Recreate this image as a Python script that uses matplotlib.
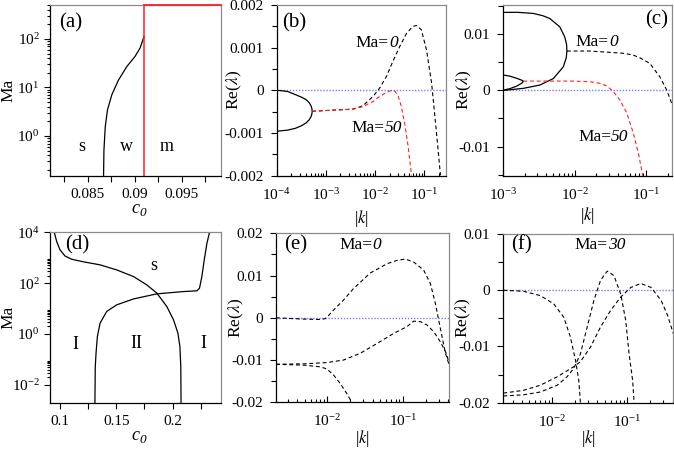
import numpy as np
import matplotlib
matplotlib.use("Agg")
import matplotlib.pyplot as plt
from matplotlib.ticker import FixedLocator, FuncFormatter, MultipleLocator, NullFormatter
from matplotlib.transforms import offset_copy

plt.rcParams['font.family'] = ['Liberation Serif', 'DejaVu Serif']
plt.rcParams['mathtext.fontset'] = 'stix'
plt.rcParams['axes.unicode_minus'] = False

# (a) neutral curve and the red boundary
a_c0 = [0.0867, 0.08674, 0.08688, 0.08712, 0.08758, 0.08828, 0.08917, 0.09005, 0.09058, 0.09101]
a_ma = [0.15, 0.51, 1.55, 3.47, 7.08, 14.1, 26.9, 43.6, 64.6, 112]
a_red_c0 = 0.091

# (b) growth rates, real branches (solid) and complex pair (dashed)
b_k_solid = [1.0e-4, 1.3e-4, 1.7e-4, 2.4e-4, 3.2e-4, 4.0e-4, 4.6e-4, 5.0e-4, 5.2e-4, 5.3e-4,
             5.2e-4, 5.0e-4, 4.6e-4, 4.0e-4, 3.2e-4, 2.4e-4, 1.7e-4, 1.0e-4]
b_re_solid = [0.0, -0.00001, -0.00003, -0.0001, -0.00016, -0.00022, -0.00029, -0.00036, -0.00042, -0.00049,
              -0.00056, -0.00062, -0.00069, -0.00076, -0.00083, -0.00089, -0.00093, -0.00096]
b_k_ma0 = [5.3e-4, 1.66e-3, 3.63e-3, 5.75e-3, 9.3e-3, 1.26e-2, 1.74e-2, 2.34e-2, 3.24e-2, 4.47e-2,
           6.03e-2, 7.08e-2, 8.91e-2, 0.1135, 0.1445, 0.182, 0.219]
b_re_ma0 = [-0.00049, -0.00046, -0.00044, -0.00036, -0.00014, 0.000055, 0.00033, 0.00068, 0.00103, 0.00134,
            0.0015, 0.00152, 0.00142, 0.00095, 0.00017, -0.001, -0.00199]
b_k_ma50 = [5.3e-4, 1.66e-3, 3.63e-3, 5.75e-3, 9.3e-3, 1.26e-2, 1.74e-2, 2.19e-2, 2.57e-2, 3.02e-2,
            3.47e-2, 4.07e-2, 4.79e-2, 5.62e-2]
b_re_ma50 = [-0.00049, -0.00046, -0.00044, -0.00038, -0.00026, -0.00014, -0.00005, 0.0, -0.00002, -0.00014,
             -0.00037, -0.00077, -0.00131, -0.00199]

# (c)
c_k_solid0 = [1e-3, 1.58e-3, 2.63e-3, 3.55e-3, 4.47e-3, 6.17e-3, 7.24e-3, 7.67e-3, 7.76e-3, 7.59e-3,
              6.92e-3, 5.01e-3, 3.24e-3, 1.91e-3, 1.12e-3, 1e-3]
c_re_solid0 = [0.01388, 0.0139, 0.0137, 0.0133, 0.0128, 0.0113, 0.0095, 0.0082, 0.0070, 0.0058,
               0.0042, 0.0021, 0.00094, 0.00036, 0.00005, 0.0]
c_k_ma0 = [7.76e-3, 1.62e-2, 2.82e-2, 4.79e-2, 6.5e-2, 8.13e-2, 0.112, 0.155, 0.193, 0.231]
c_re_ma0 = [0.0070, 0.0070, 0.0068, 0.0066, 0.0063, 0.0058, 0.0048, 0.0024, 0.00005, -0.0026]
c_k_solid50 = [1e-3, 1.23e-3, 1.55e-3, 1.82e-3, 1.91e-3, 1.82e-3, 1.55e-3, 1.23e-3, 1e-3]
c_re_solid50 = [0.00272, 0.00254, 0.00213, 0.00180, 0.00160, 0.00130, 0.00077, 0.00029, 0.00005]
c_k_ma50 = [1.91e-3, 3.24e-3, 5.62e-3, 9.55e-3, 1.62e-2, 2.24e-2, 2.82e-2, 3.47e-2, 4.27e-2, 5.37e-2,
            6.61e-2, 7.76e-2, 8.91e-2]
c_re_ma50 = [0.00165, 0.00165, 0.00165, 0.00165, 0.00154, 0.00125, 0.00077, -0.00024, -0.00173, -0.0041,
             -0.0077, -0.0112, -0.0152]

# (d) stability map
d_c0_1 = [0.0949, 0.0971, 0.1, 0.1044, 0.1104, 0.1207, 0.1356, 0.1504, 0.1653, 0.1772, 0.186,
          0.1949, 0.2008, 0.2047, 0.2065, 0.2073, 0.2075]
d_ma_1 = [1e4, 4266, 2042, 1175, 871, 692, 525, 331, 182, 85, 40.7, 12.0, 3.63, 1.10, 0.32, 0.05, 0.002]
d_c0_2 = [0.131, 0.1313, 0.132, 0.1332, 0.1356, 0.1415, 0.1504, 0.1653, 0.186, 0.2097, 0.2216,
          0.2239, 0.226, 0.2281, 0.2305, 0.2328]
d_ma_2 = [0.002, 0.05, 0.18, 0.81, 2.69, 7.76, 14.1, 24.0, 38.0, 46.8, 50.1, 63.1, 182, 813, 3715, 1e4]

# (e) Ma = 0
e_k1 = [2.08e-3, 4.81e-3, 8.0e-3, 9.33e-3, 1.03e-2, 1.2e-2, 1.63e-2, 2.21e-2, 3.69e-2, 6.15e-2,
        8.36e-2, 0.1076, 0.139, 0.188, 0.231, 0.269, 0.298, 0.330, 0.366, 0.404]
e_re1 = [0.0, -0.0003, -0.0004, -0.0002, 0.0005, 0.0018, 0.0042, 0.0069, 0.0106, 0.0128,
         0.0136, 0.0139, 0.0132, 0.0113, 0.0081, 0.0034, -0.0006, -0.0045, -0.0084, -0.0108]
e_k2 = [2.08e-3, 4.81e-3, 9.82e-3, 1.63e-2, 2.72e-2, 4.52e-2, 7.53e-2, 0.113, 0.139, 0.170,
        0.208, 0.256, 0.314, 0.385, 0.404]
e_re2 = [-0.0110, -0.0109, -0.0106, -0.0100, -0.0084, -0.0061, -0.0037, -0.0021, -0.0008, -0.0009,
         -0.0017, -0.0033, -0.0057, -0.0088, -0.0108]
e_k3 = [2.08e-3, 4.81e-3, 8.0e-3, 9.82e-3, 1.2e-2, 1.47e-2, 1.8e-2, 2.1e-2]
e_re3 = [-0.0110, -0.0112, -0.0116, -0.0121, -0.0135, -0.0155, -0.0179, -0.0200]

# (f) Ma = 30
f_k1 = [2.26e-3, 4.18e-3, 6.98e-3, 1.05e-2, 1.43e-2, 1.75e-2, 2.05e-2, 2.26e-2, 2.38e-2]
f_re1 = [0.0, -0.00018, -0.00095, -0.0024, -0.0048, -0.0083, -0.0125, -0.016, -0.020]
f_k2 = [2.26e-3, 4.18e-3, 6.98e-3, 1.17e-2, 1.58e-2, 1.94e-2, 2.38e-2, 2.93e-2, 3.59e-2, 4.41e-2,
        5.4e-2, 6.62e-2, 8.15e-2, 9.49e-2, 0.105, 0.117, 0.1225]
f_re2 = [-0.0188, -0.0186, -0.0181, -0.0169, -0.0154, -0.0139, -0.0113, -0.0065, -0.0018, 0.0018,
         0.0034, 0.0026, -0.0007, -0.0054, -0.0113, -0.0160, -0.0200]
f_k3 = [2.26e-3, 4.18e-3, 6.98e-3, 1.17e-2, 1.94e-2, 2.38e-2, 3.24e-2, 4.41e-2, 5.98e-2, 8.15e-2,
        0.111, 0.15, 0.205, 0.279, 0.341, 0.405]
f_re3 = [-0.0183, -0.0178, -0.0169, -0.0154, -0.0136, -0.0127, -0.0101, -0.0065, -0.0036, -0.0012,
         0.0005, 0.0012, 0.0005, -0.0018, -0.0045, -0.0077]

DASH = (3.5, 2.5)
BLUE = '#7b7bff'
RED = '#ff2020'

fig = plt.figure(figsize=(6.74, 4.51), dpi=100)
W, H = 674.0, 451.0


def box(l, r, t, b):
    return fig.add_axes([l / W, 1 - b / H, (r - l) / W, (b - t) / H])


def frame(ax, x_in):
    for s in ('top', 'right'):
        ax.spines[s].set_color('#8a8a8a')
    for s in ax.spines.values():
        s.set_linewidth(0.9)
    ax.tick_params(which='both', top=False, right=False, direction='out', labelsize=11, width=0.8)
    ax.tick_params(which='major', length=4)
    ax.tick_params(which='minor', length=2.5)
    if x_in:
        ax.tick_params(axis='x', which='both', direction='in', pad=8)
        ax.tick_params(axis='y', which='both', pad=5.5)
    else:
        ax.tick_params(axis='x', which='both', pad=5)


def plain(v, pos):
    return '%g' % round(v, 6)


def growth_axis(ax, ylo, yhi, major, minor, xlo, xhi):
    ax.set_xscale('log')
    ax.set_xlim(xlo, xhi)
    ax.set_ylim(ylo, yhi)
    ax.yaxis.set_major_locator(MultipleLocator(major))
    ax.yaxis.set_minor_locator(MultipleLocator(minor))
    ax.yaxis.set_major_formatter(FuncFormatter(plain))
    ax.xaxis.set_minor_formatter(NullFormatter())
    ax.axhline(0, color=BLUE, lw=1.0, ls=(0, (1, 1.2)), zorder=1)
    frame(ax, True)
    ax.tick_params(axis='y', which='minor', length=3.5)


def k_labels(ax, xpos, ypos):
    ax.set_xlabel(r'|$k$|', fontsize=12, va='center')
    ax.set_ylabel(r'Re($\lambda$)', fontsize=12.5, va='center')
    ax.xaxis.set_label_coords(0.5, xpos)
    ax.yaxis.set_label_coords(ypos, 0.5)


def c0_labels(ax, xpos, ypos):
    # italic c with an italic subscript 0
    ax.set_xlabel('c', fontsize=13, style='italic', va='center')
    ax.xaxis.set_label_coords(0.5, xpos)
    tr = offset_copy(ax.transAxes, fig=fig, x=2.8, y=-3.5, units='points')
    ax.text(0.5, xpos, '0', transform=tr, fontsize=9.5, style='italic',
            ha='left', va='center', clip_on=False)
    ax.set_ylabel('Ma', fontsize=12.5, va='center')
    ax.yaxis.set_label_coords(ypos, 0.5)


def ma_label(ax, x, y, num, size=12.5):
    # "Ma=" upright, the number in italics, centred together at (x, y)
    split = (1.9 * size - 0.5 * len(num) * size) / 2.0
    tr = offset_copy(ax.transAxes, fig=fig, x=split, y=0, units='points')
    ax.text(x, y, 'Ma=', transform=tr, ha='right', va='center', fontsize=size)
    ax.text(x, y, num, transform=tr, ha='left', va='center', fontsize=size, style='italic')


def tag(ax, x, y, s):
    ax.text(x, y, s, transform=ax.transAxes, fontsize=15, ha='center', va='center')


ax_a = box(50, 221, 5, 176)
ax_b = box(276.7, 445.7, 5, 175.7)
ax_c = box(503.3, 672.3, 5, 175.7)
ax_d = box(50, 221, 232.3, 402.7)
ax_e = box(276, 448.7, 233.3, 402.3)
ax_f = box(503.3, 673.3, 234, 402.7)

# (a)
ax = ax_a
ax.set_yscale('log')
ax.set_xlim(0.081, 0.0992)
ax.set_ylim(0.15, 500)
ax.plot(a_c0, a_ma, color='k', lw=0.9)
ax.axvline(a_red_c0, color=RED, lw=1.1)
ax.plot([a_red_c0, 0.0992], [500, 500], color=RED, lw=1.3, clip_on=False, zorder=5)
ax.xaxis.set_major_locator(FixedLocator([0.085, 0.09, 0.095]))
ax.xaxis.set_minor_locator(FixedLocator([0.0825, 0.0875, 0.0925, 0.0975]))
ax.xaxis.set_major_formatter(FuncFormatter(plain))
ax.yaxis.set_major_locator(FixedLocator([1, 10, 100]))
ax.yaxis.set_minor_formatter(NullFormatter())
frame(ax, False)
ax.tick_params(axis='x', which='minor', length=4)
c0_labels(ax, -0.19, -0.245)
tag(ax, 0.123, 0.895, '(a)')
for t, x in (('s', 0.187), ('w', 0.45), ('m', 0.684)):
    ax.text(x, 0.175, t, transform=ax.transAxes, fontsize=13, ha='center', va='center')

# (b)
ax = ax_b
growth_axis(ax, -0.002, 0.002, 0.001, 0.0005, 1e-4, 0.28)
ax.plot(b_k_solid, b_re_solid, color='k', lw=0.9)
ax.plot(b_k_ma0, b_re_ma0, color='k', lw=0.8, dashes=DASH)
ax.plot(b_k_ma50, b_re_ma50, color=RED, lw=0.8, dashes=DASH)
k_labels(ax, -0.25, -0.25)
tag(ax, 0.102, 0.895, '(b)')
ma_label(ax, 0.592, 0.779, '0')
ma_label(ax, 0.592, 0.279, '50')

# (c)
ax = ax_c
growth_axis(ax, -0.0152, 0.0152, 0.01, 0.005, 1e-3, 0.231)
ax.plot(c_k_solid0, c_re_solid0, color='k', lw=0.9)
ax.plot(c_k_ma0, c_re_ma0, color='k', lw=0.8, dashes=DASH)
ax.plot(c_k_solid50, c_re_solid50, color='k', lw=0.9)
ax.plot(c_k_ma50, c_re_ma50, color=RED, lw=0.8, dashes=DASH)
k_labels(ax, -0.235, -0.228)
tag(ax, 0.909, 0.912, '(c)')
ma_label(ax, 0.553, 0.785, '0')
ma_label(ax, 0.592, 0.228, '50')

# (d)
ax = ax_d
ax.set_yscale('log')
ax.set_xlim(0.0911, 0.243)
ax.set_ylim(0.002, 1e4)
ax.plot(d_c0_1, d_ma_1, color='k', lw=0.9)
ax.plot(d_c0_2, d_ma_2, color='k', lw=0.9)
ax.xaxis.set_major_locator(FixedLocator([0.1, 0.15, 0.2]))
ax.xaxis.set_minor_locator(FixedLocator([0.125, 0.175, 0.225]))
ax.xaxis.set_major_formatter(FuncFormatter(plain))
ax.yaxis.set_major_locator(FixedLocator([1e-2, 1, 1e2, 1e4]))
ax.yaxis.set_minor_locator(FixedLocator([k * 10.0 ** n for n in (-2, 0, 2) for k in range(2, 10)]))
ax.yaxis.set_minor_formatter(NullFormatter())
frame(ax, False)
ax.tick_params(axis='x', which='minor', length=4)
c0_labels(ax, -0.19, -0.245)
tag(ax, 0.158, 0.925, '(d)')
for t, x, y in (('s', 0.608, 0.804), ('I', 0.146, 0.339), ('II', 0.503, 0.345), ('I', 0.895, 0.345)):
    ax.text(x, y, t, transform=ax.transAxes, fontsize=13, ha='center', va='center')

# (e)
ax = ax_e
growth_axis(ax, -0.02, 0.02, 0.01, 0.005, 2.08e-3, 0.404)
for k, re in ((e_k1, e_re1), (e_k2, e_re2), (e_k3, e_re3)):
    ax.plot(k, re, color='k', lw=0.8, dashes=DASH)
k_labels(ax, -0.215, -0.228)
tag(ax, 0.116, 0.931, '(e)')
ma_label(ax, 0.486, 0.931, '0')

# (f)
ax = ax_f
growth_axis(ax, -0.02, 0.01, 0.01, 0.005, 2.26e-3, 0.405)
for k, re in ((f_k1, f_re1), (f_k2, f_re2), (f_k3, f_re3)):
    ax.plot(k, re, color='k', lw=0.8, dashes=DASH)
k_labels(ax, -0.213, -0.235)
tag(ax, 0.108, 0.935, '(f)')
ma_label(ax, 0.569, 0.935, '30')

fig.savefig('out.png', dpi=100)
